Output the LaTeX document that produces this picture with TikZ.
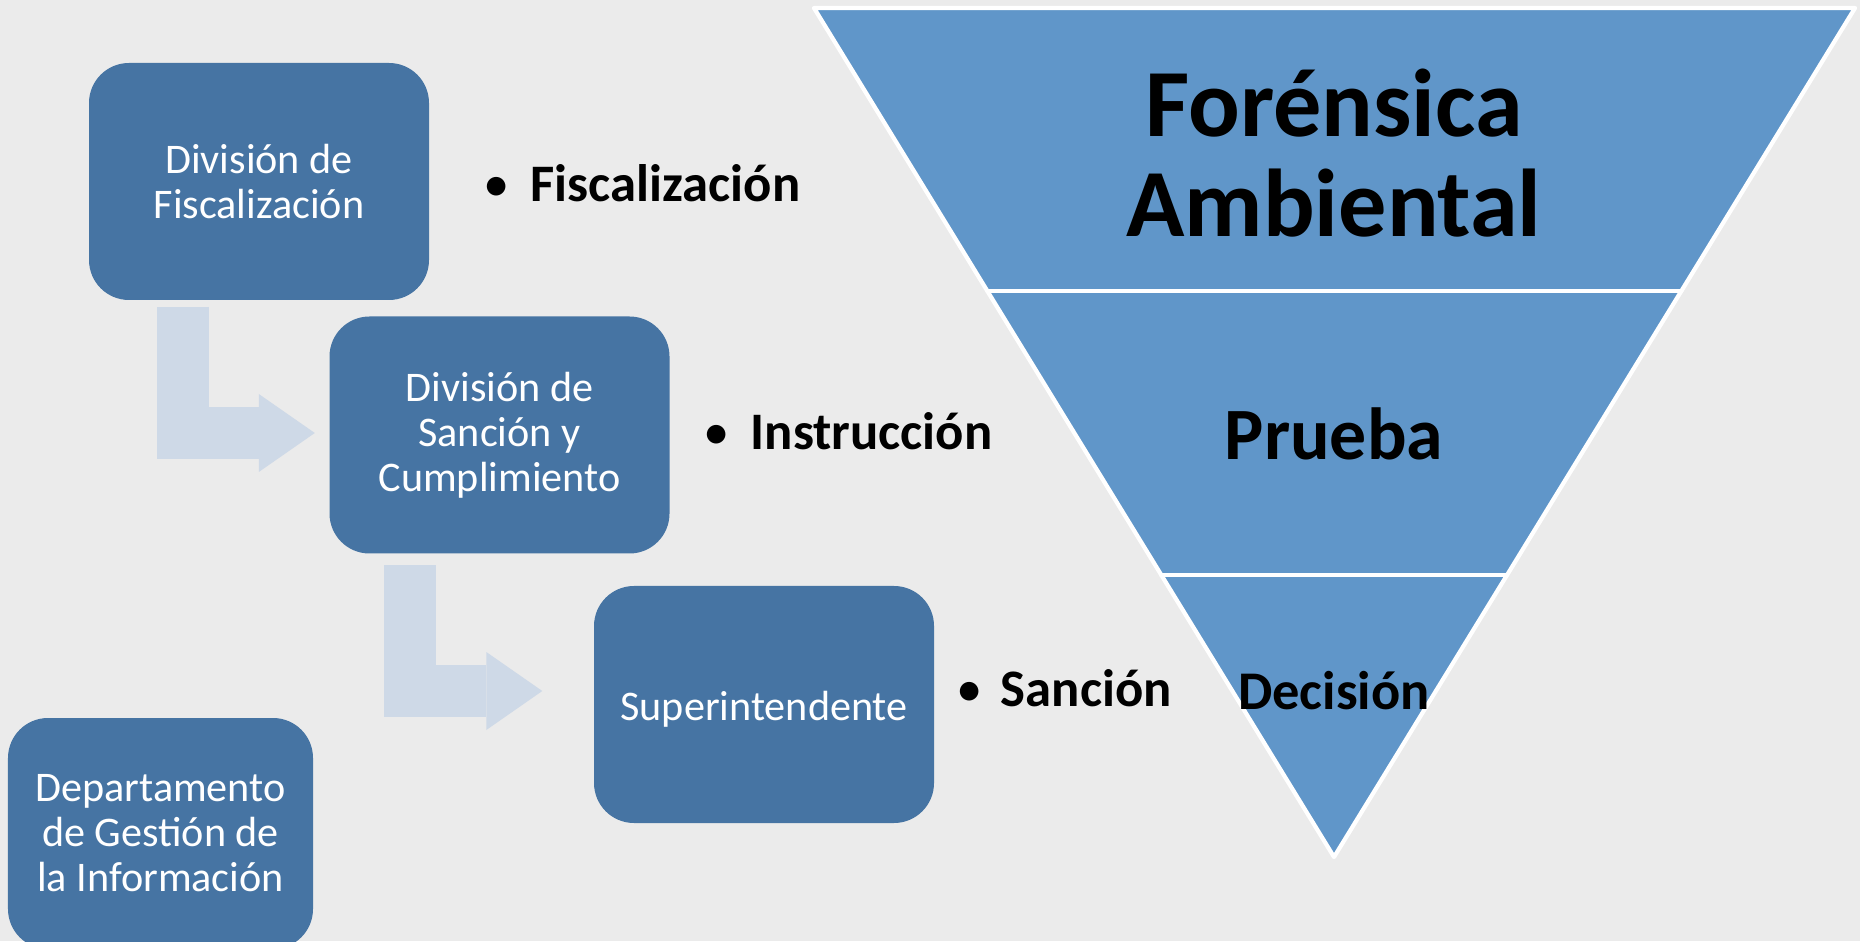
\documentclass[tikz,border=0pt]{standalone}
\usepackage{fontspec}
\setmainfont{Carlito}
\usepackage{tkz-euclide}
\usetikzlibrary{arrows.meta,calc}

\definecolor{fondo}{HTML}{EBEBEB}
\definecolor{azulcaja}{HTML}{4674A3}
\definecolor{azulembudo}{HTML}{6096C9}
\definecolor{azulflecha}{HTML}{CED9E7}

\tikzset{
    caja/.style={fill=azulcaja, rounded corners=0.4cm, minimum width=3.40cm,
        minimum height=2.37cm, inner sep=0pt, text=white, align=center,
        font=\fontsize{12}{12.8}\selectfont},
    flecha/.style={draw=azulflecha, line width=0.52cm,
        -{Triangle[length=0.56cm, width=0.78cm, line width=0pt]}},
    punto/.style={anchor=base west, inner sep=0pt,
        font=\bfseries\fontsize{15}{18}\selectfont},
}

\begin{document}
\begin{tikzpicture}
    \fill[fondo] (0,0) rectangle (18.6,9.41);
    \useasboundingbox (0,0) rectangle (18.6,9.41);
    \clip (0,0) rectangle (18.6,9.41);

    % embudo
    \tkzDefPoints{8.14/9.33/A, 18.55/9.33/B, 13.34/0.84/C, 0/6.50/P, 1/6.50/Q, 0/3.66/R, 1/3.66/S}
    \tkzInterLL(A,C)(P,Q) \tkzGetPoint{D}
    \tkzInterLL(B,C)(P,Q) \tkzGetPoint{E}
    \tkzInterLL(A,C)(R,S) \tkzGetPoint{F}
    \tkzInterLL(B,C)(R,S) \tkzGetPoint{G}

    \tkzDrawPolygon[fill=azulembudo, draw=white, line width=1.2pt](A,B,C)
    \tkzDrawSegments[white, line width=1.2pt](D,E F,G)

    \node[align=center, font=\bfseries\fontsize{27.4}{28.3}\selectfont] (foren) at (13.34,7.88) {Forénsica\\Ambiental};
    \node[anchor=base, font=\bfseries\fontsize{21}{24}\selectfont] (prueba) at (13.34,4.81) {Prueba};
    \node[anchor=base, font=\bfseries\fontsize{15.5}{18}\selectfont] (decis) at (13.34,2.32) {Decisión};

    % cajas
    \node[caja] (fisc) at (2.59,7.595) {División de\\Fiscalización};
    \node[caja] (sanc) at (4.995,5.06) {División de\\Sanción y\\Cumplimiento};
    \node[caja] (super) at (7.64,2.365) {\raisebox{-0.155cm}[0pt][0pt]{Superintendente}};
    \node[caja, minimum width=3.05cm, minimum height=2.31cm] (depto) at (1.605,1.075) {Departamento\\de Gestión de\\la Información};

    \draw[flecha] ($(fisc.south west)+(0.95,-0.06)$) |- ($(sanc.west)+(-0.14,0.02)$);
    \draw[flecha] ($(sanc.south west)+(0.815,-0.11)$) |- ($(super.west)+(-0.51,0.135)$);

    % puntos
    \node[punto] (pfisc) at (4.83,7.39) {\makebox[0.47cm][l]{\mdseries •}Fiscalización};
    \node[punto] (pinst) at (7.03,4.91) {\makebox[0.47cm][l]{\mdseries •}Instrucción};
    \node[punto] (psanc) at (9.56,2.35) {\makebox[0.44cm][l]{\mdseries •}Sanción};
\end{tikzpicture}
\end{document}
